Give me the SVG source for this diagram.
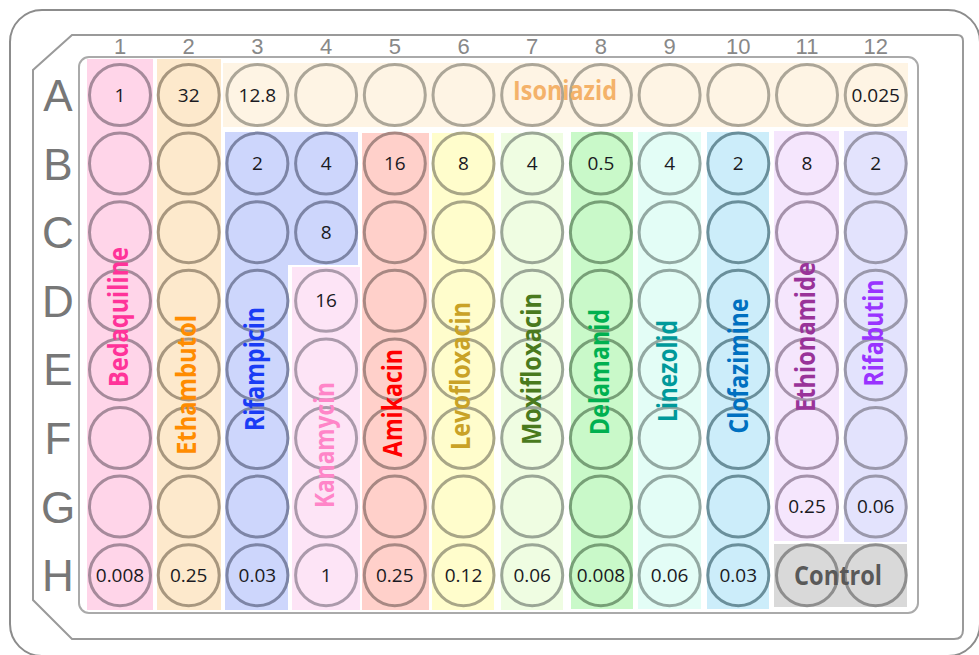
<svg xmlns="http://www.w3.org/2000/svg" xmlns:xlink="http://www.w3.org/1999/xlink" width="979" height="655" viewBox="0 0 979 655">
<style>
.frame{fill:#fff;stroke:#8c8c8c;stroke-width:2}
.frame2{fill:#fff;stroke:#9a9a9a;stroke-width:2}
.frame3{fill:#fff;stroke:#aaa;stroke-width:2}
.col{font-family:"Liberation Sans",Arial,sans-serif;font-size:22px;fill:#888;text-anchor:middle}
.row{font-family:"Liberation Sans",Arial,sans-serif;font-size:44px;fill:#777;text-anchor:middle}
.v{font-family:"Open Sans","Liberation Sans",sans-serif;font-size:19px;fill:#1a1a22;text-anchor:middle}
.lab{font-family:"Open Sans","Liberation Sans",sans-serif;font-size:26px;font-weight:bold;text-anchor:middle}
.w{fill:none;stroke-width:3}
</style>
<defs>
<circle id="w" r="30.5"/>
</defs>
<g id="plate">
<rect class="frame" x="10" y="10" width="970" height="646" rx="32"/>
<path class="frame2" d="M72,35 H957 Q963,35 963,41 V630 Q963,639 954,639 H72 L33,600 V70 Z"/>
<rect class="frame3" x="79" y="57" width="839" height="556" rx="10"/>
</g>
<g id="bands">
<rect x="87" y="59" width="66" height="551" fill="#ffd5e9"/>
<rect x="157" y="59" width="64" height="551" fill="#fde9cc"/>
<rect x="223" y="63" width="685" height="64" fill="#fef4e4"/>
<path d="M225,132 H358 V265 H288 V610 H225 Z" fill="#cdd6fc"/>
<rect x="292" y="267" width="68" height="343" fill="#fde4f6"/>
<rect x="362" y="133" width="67" height="477" fill="#ffd0ca"/>
<rect x="432" y="133" width="62" height="477" fill="#fffdcc"/>
<rect x="501" y="133" width="62" height="477" fill="#effde2"/>
<rect x="571" y="132" width="62" height="477" fill="#c9f9c9"/>
<rect x="638" y="132" width="63" height="477" fill="#e3fdf6"/>
<rect x="707" y="132" width="62" height="477" fill="#ccedfa"/>
<rect x="774" y="131" width="65" height="410" fill="#f5e6fd"/>
<rect x="844" y="131" width="63" height="411" fill="#e3e3fd"/>
<rect x="774" y="544" width="133" height="63" fill="#d9d9d9"/>
</g>
<g id="column-labels">
<text class="col" x="120" y="54">1</text>
<text class="col" x="188.7" y="54">2</text>
<text class="col" x="257.4" y="54">3</text>
<text class="col" x="326.1" y="54">4</text>
<text class="col" x="394.8" y="54">5</text>
<text class="col" x="463.5" y="54">6</text>
<text class="col" x="532.2" y="54">7</text>
<text class="col" x="600.9" y="54">8</text>
<text class="col" x="669.6" y="54">9</text>
<text class="col" x="738.3" y="54">10</text>
<text class="col" x="807" y="54">11</text>
<text class="col" x="875.7" y="54">12</text>
</g>
<g id="row-labels">
<text class="row" x="58" y="111">A</text>
<text class="row" x="58" y="180">B</text>
<text class="row" x="58" y="248">C</text>
<text class="row" x="58" y="317">D</text>
<text class="row" x="58" y="385">E</text>
<text class="row" x="58" y="454">F</text>
<text class="row" x="58" y="523">G</text>
<text class="row" x="58" y="591">H</text>
</g>
<g id="bedaquiline" class="w" stroke="#a68a9b">
<use xlink:href="#w" x="120" y="95"/><use xlink:href="#w" x="120" y="163.6"/><use xlink:href="#w" x="120" y="232.2"/><use xlink:href="#w" x="120" y="300.8"/><use xlink:href="#w" x="120" y="369.4"/><use xlink:href="#w" x="120" y="438"/><use xlink:href="#w" x="120" y="506.6"/><use xlink:href="#w" x="120" y="575.2"/>
</g>
<g id="ethambutol" class="w" stroke="#a8977f">
<use xlink:href="#w" x="188.7" y="95"/><use xlink:href="#w" x="188.7" y="163.6"/><use xlink:href="#w" x="188.7" y="232.2"/><use xlink:href="#w" x="188.7" y="300.8"/><use xlink:href="#w" x="188.7" y="369.4"/><use xlink:href="#w" x="188.7" y="438"/><use xlink:href="#w" x="188.7" y="506.6"/><use xlink:href="#w" x="188.7" y="575.2"/>
</g>
<g id="isoniazid" class="w" stroke="#aca698">
<use xlink:href="#w" x="257.4" y="95"/><use xlink:href="#w" x="326.1" y="95"/><use xlink:href="#w" x="394.8" y="95"/><use xlink:href="#w" x="463.5" y="95"/><use xlink:href="#w" x="532.2" y="95"/><use xlink:href="#w" x="600.9" y="95"/><use xlink:href="#w" x="669.6" y="95"/><use xlink:href="#w" x="738.3" y="95"/><use xlink:href="#w" x="807" y="95"/><use xlink:href="#w" x="875.7" y="95"/>
</g>
<g id="rifampicin" class="w" stroke="#7d85a6">
<use xlink:href="#w" x="257.4" y="163.6"/><use xlink:href="#w" x="326.1" y="163.6"/><use xlink:href="#w" x="257.4" y="232.2"/><use xlink:href="#w" x="326.1" y="232.2"/><use xlink:href="#w" x="257.4" y="300.8"/><use xlink:href="#w" x="257.4" y="369.4"/><use xlink:href="#w" x="257.4" y="438"/><use xlink:href="#w" x="257.4" y="506.6"/><use xlink:href="#w" x="257.4" y="575.2"/>
</g>
<g id="kanamycin" class="w" stroke="#ab9aab">
<use xlink:href="#w" x="326.1" y="300.8"/><use xlink:href="#w" x="326.1" y="369.4"/><use xlink:href="#w" x="326.1" y="438"/><use xlink:href="#w" x="326.1" y="506.6"/><use xlink:href="#w" x="326.1" y="575.2"/>
</g>
<g id="amikacin" class="w" stroke="#a88883">
<use xlink:href="#w" x="394.8" y="163.6"/><use xlink:href="#w" x="394.8" y="232.2"/><use xlink:href="#w" x="394.8" y="300.8"/><use xlink:href="#w" x="394.8" y="369.4"/><use xlink:href="#w" x="394.8" y="438"/><use xlink:href="#w" x="394.8" y="506.6"/><use xlink:href="#w" x="394.8" y="575.2"/>
</g>
<g id="levofloxacin" class="w" stroke="#a8a687">
<use xlink:href="#w" x="463.5" y="163.6"/><use xlink:href="#w" x="463.5" y="232.2"/><use xlink:href="#w" x="463.5" y="300.8"/><use xlink:href="#w" x="463.5" y="369.4"/><use xlink:href="#w" x="463.5" y="438"/><use xlink:href="#w" x="463.5" y="506.6"/><use xlink:href="#w" x="463.5" y="575.2"/>
</g>
<g id="moxifloxacin" class="w" stroke="#9aa696">
<use xlink:href="#w" x="532.2" y="163.6"/><use xlink:href="#w" x="532.2" y="232.2"/><use xlink:href="#w" x="532.2" y="300.8"/><use xlink:href="#w" x="532.2" y="369.4"/><use xlink:href="#w" x="532.2" y="438"/><use xlink:href="#w" x="532.2" y="506.6"/><use xlink:href="#w" x="532.2" y="575.2"/>
</g>
<g id="delamanid" class="w" stroke="#77a077">
<use xlink:href="#w" x="600.9" y="163.6"/><use xlink:href="#w" x="600.9" y="232.2"/><use xlink:href="#w" x="600.9" y="300.8"/><use xlink:href="#w" x="600.9" y="369.4"/><use xlink:href="#w" x="600.9" y="438"/><use xlink:href="#w" x="600.9" y="506.6"/><use xlink:href="#w" x="600.9" y="575.2"/>
</g>
<g id="linezolid" class="w" stroke="#92a8a2">
<use xlink:href="#w" x="669.6" y="163.6"/><use xlink:href="#w" x="669.6" y="232.2"/><use xlink:href="#w" x="669.6" y="300.8"/><use xlink:href="#w" x="669.6" y="369.4"/><use xlink:href="#w" x="669.6" y="438"/><use xlink:href="#w" x="669.6" y="506.6"/><use xlink:href="#w" x="669.6" y="575.2"/>
</g>
<g id="clofazimine" class="w" stroke="#6a8f9b">
<use xlink:href="#w" x="738.3" y="163.6"/><use xlink:href="#w" x="738.3" y="232.2"/><use xlink:href="#w" x="738.3" y="300.8"/><use xlink:href="#w" x="738.3" y="369.4"/><use xlink:href="#w" x="738.3" y="438"/><use xlink:href="#w" x="738.3" y="506.6"/><use xlink:href="#w" x="738.3" y="575.2"/>
</g>
<g id="ethionamide" class="w" stroke="#a592ab">
<use xlink:href="#w" x="807" y="163.6"/><use xlink:href="#w" x="807" y="232.2"/><use xlink:href="#w" x="807" y="300.8"/><use xlink:href="#w" x="807" y="369.4"/><use xlink:href="#w" x="807" y="438"/><use xlink:href="#w" x="807" y="506.6"/>
</g>
<g id="rifabutin" class="w" stroke="#9a98ab">
<use xlink:href="#w" x="875.7" y="163.6"/><use xlink:href="#w" x="875.7" y="232.2"/><use xlink:href="#w" x="875.7" y="300.8"/><use xlink:href="#w" x="875.7" y="369.4"/><use xlink:href="#w" x="875.7" y="438"/><use xlink:href="#w" x="875.7" y="506.6"/>
</g>
<g id="control" class="w" stroke="#8e8e8e">
<use xlink:href="#w" x="807" y="575.2"/><use xlink:href="#w" x="875.7" y="575.2"/>
</g>
<g id="values">
<text class="v" x="120" y="101.5">1</text>
<text class="v" x="188.7" y="101.5">32</text>
<text class="v" x="257.4" y="101.5">12.8</text>
<text class="v" x="875.7" y="101.5">0.025</text>
<text class="v" x="257.4" y="170">2</text>
<text class="v" x="326.1" y="170">4</text>
<text class="v" x="394.8" y="170">16</text>
<text class="v" x="463.5" y="170">8</text>
<text class="v" x="532.2" y="170">4</text>
<text class="v" x="600.9" y="170">0.5</text>
<text class="v" x="669.6" y="170">4</text>
<text class="v" x="738.3" y="170">2</text>
<text class="v" x="807" y="170">8</text>
<text class="v" x="875.7" y="170">2</text>
<text class="v" x="326.1" y="238.7">8</text>
<text class="v" x="326.1" y="307.3">16</text>
<text class="v" x="807" y="513">0.25</text>
<text class="v" x="875.7" y="513">0.06</text>
<text class="v" x="120" y="581.7">0.008</text>
<text class="v" x="188.7" y="581.7">0.25</text>
<text class="v" x="257.4" y="581.7">0.03</text>
<text class="v" x="326.1" y="581.7">1</text>
<text class="v" x="394.8" y="581.7">0.25</text>
<text class="v" x="463.5" y="581.7">0.12</text>
<text class="v" x="532.2" y="581.7">0.06</text>
<text class="v" x="600.9" y="581.7">0.008</text>
<text class="v" x="669.6" y="581.7">0.06</text>
<text class="v" x="738.3" y="581.7">0.03</text>
</g>
<g id="drug-labels">
<text class="lab" fill="#ff3399" transform="translate(128,317) rotate(-90)" textLength="140" lengthAdjust="spacingAndGlyphs">Bedaquiline</text>
<text class="lab" fill="#ff8c00" transform="translate(196,385) rotate(-90)" textLength="140" lengthAdjust="spacingAndGlyphs">Ethambutol</text>
<text class="lab" fill="#1a3cf5" transform="translate(264,369) rotate(-90)" textLength="124" lengthAdjust="spacingAndGlyphs">Rifampicin</text>
<text class="lab" fill="#ff85c8" transform="translate(334,445) rotate(-90)" textLength="126" lengthAdjust="spacingAndGlyphs">Kanamycin</text>
<text class="lab" fill="#ff0000" transform="translate(402,403) rotate(-90)" textLength="108" lengthAdjust="spacingAndGlyphs">Amikacin</text>
<text class="lab" fill="#c9a227" transform="translate(470,376) rotate(-90)" textLength="148" lengthAdjust="spacingAndGlyphs">Levofloxacin</text>
<text class="lab" fill="#4a7a1e" transform="translate(541,369) rotate(-90)" textLength="152" lengthAdjust="spacingAndGlyphs">Moxifloxacin</text>
<text class="lab" fill="#00b050" transform="translate(609,372) rotate(-90)" textLength="126" lengthAdjust="spacingAndGlyphs">Delamanid</text>
<text class="lab" fill="#00999a" transform="translate(677,371) rotate(-90)" textLength="102" lengthAdjust="spacingAndGlyphs">Linezolid</text>
<text class="lab" fill="#0070c0" transform="translate(748,366) rotate(-90)" textLength="135" lengthAdjust="spacingAndGlyphs">Clofazimine</text>
<text class="lab" fill="#993399" transform="translate(815,337) rotate(-90)" textLength="150" lengthAdjust="spacingAndGlyphs">Ethionamide</text>
<text class="lab" fill="#9933ff" transform="translate(883,333) rotate(-90)" textLength="107" lengthAdjust="spacingAndGlyphs">Rifabutin</text>
<text class="lab" fill="#f4b26a" x="565" y="100" textLength="104" lengthAdjust="spacingAndGlyphs">Isoniazid</text>
<text class="lab" fill="#595959" x="838" y="585" textLength="88" lengthAdjust="spacingAndGlyphs">Control</text>
</g>
</svg>
